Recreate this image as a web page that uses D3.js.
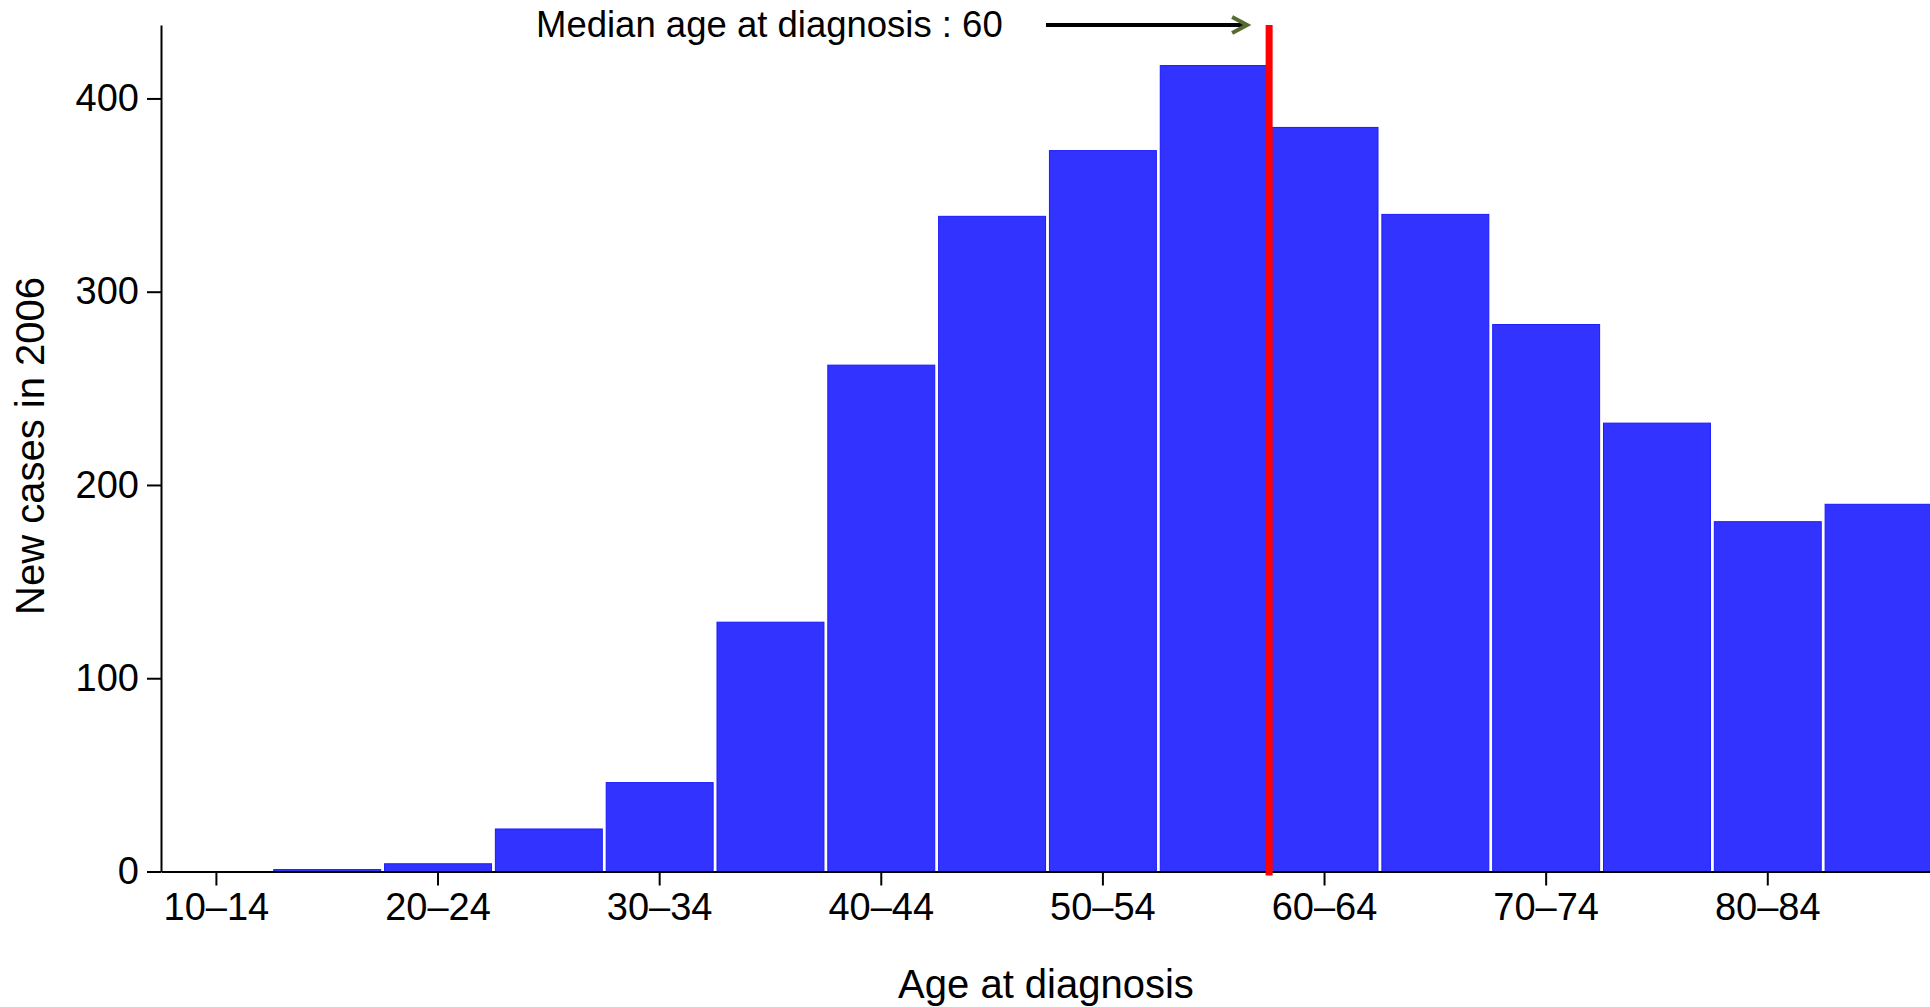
<!DOCTYPE html>
<html>
<head>
<meta charset="utf-8">
<script src="https://d3js.org/d3.v7.min.js"></script>
<style>
  body { margin: 0; background: #fff; }
  text { font-family: "Liberation Sans", Arial, Helvetica, sans-serif; fill: #000; }
</style>
</head>
<body>
<div id="graph"></div>
<script>
// age groups and new cases in 2006
const ageGroups = ["10–14", "15–19", "20–24", "25–29", "30–34", "35–39", "40–44", "45–49",
                   "50–54", "55–59", "60–64", "65–69", "70–74", "75–79", "80–84", "85+"];
const newCases = [0, 1, 4, 22, 46, 129, 262, 339, 373, 417, 385, 340, 283, 232, 181, 190];
const yTicks = [0, 100, 200, 300, 400];
const medianAge = 60;
const ageRange = [10, 90];

const W = 1930, H = 1007;

const svg = d3.select("#graph")
    .append("svg")
    .attr("width", W)
    .attr("height", H);

// scales
const x = d3.scaleBand()
    .domain(ageGroups)
    .range([161, 1934])
    .paddingInner(0.035)
    .paddingOuter(0.0175);

const xAge = d3.scaleLinear()
    .domain(ageRange)
    .range([161, 1934]);

const y = d3.scaleLinear()
    .domain([0, 438])
    .range([871.5, 25]);

// bars
svg.append("g")
    .selectAll("rect")
    .data(newCases)
    .enter()
    .append("rect")
    .attr("x", (d, i) => x(ageGroups[i]))
    .attr("y", d => y(d))
    .attr("width", x.bandwidth())
    .attr("height", d => y(0) - y(d))
    .style("fill", "#3333ff")
    .style("stroke", "#1a1aff")
    .style("stroke-width", 1);

// x axis: label every other group
const xAxis = svg.append("g")
    .attr("transform", "translate(0," + y(0) + ")")
    .call(d3.axisBottom(x)
        .tickValues(ageGroups.filter((d, i) => i % 2 === 0))
        .tickSize(14)
        .tickSizeOuter(0)
        .tickPadding(8));
xAxis.select(".domain").attr("stroke", "#000").attr("stroke-width", 2);
xAxis.selectAll(".tick line").attr("stroke", "#000").attr("stroke-width", 2);
xAxis.selectAll(".tick text").style("font-size", "38px")
    .style("font-family", "Liberation Sans, Arial, sans-serif");

// y axis
const yAxis = svg.append("g")
    .attr("transform", "translate(161,0)")
    .call(d3.axisLeft(y)
        .tickValues(yTicks)
        .tickSize(14)
        .tickSizeOuter(0)
        .tickPadding(8));
yAxis.select(".domain").attr("stroke", "#000").attr("stroke-width", 2);
yAxis.selectAll(".tick line").attr("stroke", "#000").attr("stroke-width", 2);
yAxis.selectAll(".tick text").style("font-size", "38px")
    .style("font-family", "Liberation Sans, Arial, sans-serif");

// axis titles
svg.append("text")
    .attr("x", 1046)
    .attr("y", 998)
    .attr("text-anchor", "middle")
    .style("font-size", "40px")
    .text("Age at diagnosis");

svg.append("text")
    .attr("transform", "translate(44,446) rotate(-90)")
    .attr("text-anchor", "middle")
    .style("font-size", "40px")
    .text("New cases in 2006");

// median line
svg.append("line")
    .attr("x1", xAge(medianAge))
    .attr("x2", xAge(medianAge))
    .attr("y1", y(438))
    .attr("y2", y(0) + 4)
    .attr("stroke", "#ff0000")
    .attr("stroke-width", 7);

// annotation + arrow
svg.append("text")
    .attr("x", 536)
    .attr("y", 37)
    .style("font-size", "36.5px")
    .text("Median age at diagnosis : " + medianAge);

const arrowY = y(438);
const tipX = xAge(medianAge) - 22;
svg.append("line")
    .attr("x1", 1046)
    .attr("x2", tipX)
    .attr("y1", arrowY)
    .attr("y2", arrowY)
    .attr("stroke", "#000")
    .attr("stroke-width", 4);

svg.append("path")
    .attr("d", "M" + (tipX - 15) + "," + (arrowY - 8) + "L" + tipX + "," + arrowY + "L" + (tipX - 15) + "," + (arrowY + 8))
    .attr("fill", "none")
    .attr("stroke", "#556b2f")
    .attr("stroke-width", 4);
</script>
</body>
</html>
